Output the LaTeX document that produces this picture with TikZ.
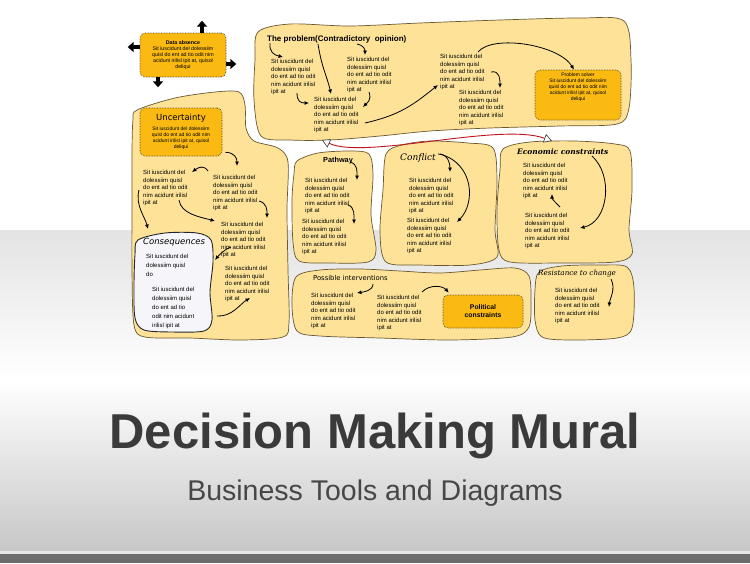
\documentclass[tikz,border=0pt]{standalone}
\usepackage{fontspec}
\setmainfont{Liberation Sans}
\newfontfamily\handserif{DejaVu Serif}
\newfontfamily\handsans{DejaVu Sans}
\usetikzlibrary{arrows.meta}

\definecolor{blobfill}{RGB}{253,226,152}
\definecolor{blobline}{RGB}{105,88,48}
\definecolor{boxfill}{RGB}{250,186,18}
\definecolor{consfill}{RGB}{246,246,250}
\definecolor{redline}{RGB}{190,20,30}
\definecolor{titlegray}{RGB}{58,58,58}

\newcommand{\sittext}{Sit iuscidunt del\\dolessiim quisl\\do ent ad tio odit\\nim acidunt irilisl\\ipit at}
\newcommand{\sitbox}{Sit iuscidunt del dolessiim\\quisl do ent ad tio odit nim\\acidunt irilisl ipit at, quisol\\deliqui}

\begin{document}
\begin{tikzpicture}[x=1pt,y=-1pt,
    blob/.style={fill=blobfill,draw=blobline,line width=0.7pt},
    txt/.style={anchor=north west,inner sep=0pt,align=left,font=\fontsize{6}{7.5}\selectfont},
    boxtxt/.style={anchor=north,inner sep=0pt,align=center,font=\fontsize{5}{5.8}\selectfont},
    obox/.style={fill=boxfill,draw=black!80,densely dotted,line width=0.6pt,rounded corners=5pt},
    arr/.style={-{Latex[length=4.5pt,width=4pt]},line width=0.8pt},
    blk/.style={-{Triangle[length=6pt,width=10pt]},line width=3.5pt},
    tri/.tip={Triangle[length=8pt,width=9pt,fill=white,color=black!80,line width=0.6pt]}]
  \useasboundingbox (0,0) rectangle (750,563);

  % background
  \fill[white] (0,0) rectangle (750,563);
  \shade[top color=black!11,bottom color=white] (0,230) rectangle (750,380);
  \shade[top color=white,bottom color=black!22] (0,380) rectangle (750,551);
  \fill[black!10] (0,551) rectangle (750,554);
  \fill[black!58] (0,554) rectangle (750,563);

  % blobs
  \draw[blob] plot[smooth cycle] coordinates {(258,32) (290,24) (350,26) (420,23) (500,20) (580,18) (624,21) (631,60) (629,108) (617,124) (560,126) (490,128) (430,131) (380,136) (330,140) (290,140) (261,136) (254,100) (255,60)}; % problem
  \draw[blob] plot[smooth cycle] coordinates {(137,110) (175,98) (215,92) (239,92) (245,105) (246,128) (254,141) (278,148) (288,162) (287,210) (288,270) (289,322) (283,337) (240,340) (190,338) (145,337) (134,325) (132,270) (132,200) (132,150) (133,120)}; % uncertainty
  \draw[blob,fill=consfill,draw=black!85,line width=0.9pt] plot[smooth cycle] coordinates {(138,240) (165,233) (197,233) (211,240) (213,262) (210,292) (212,320) (204,331) (172,332) (144,330) (135,318) (134,285) (135,255)}; % consequences
  \draw[blob] plot[smooth cycle] coordinates {(297,161) (318,153) (350,151) (369,154) (373,175) (371,215) (376,250) (368,262) (330,263) (299,261) (293,242) (292,200) (294,174)}; % pathway
  \draw[blob] plot[smooth cycle] coordinates {(386,154) (402,145) (430,141) (468,143) (493,148) (497,180) (495,230) (497,257) (470,265) (420,265) (386,262) (380,232) (383,190)}; % conflict
  \draw[blob] plot[smooth cycle] coordinates {(503,149) (530,142) (575,141) (615,144) (630,151) (632,190) (629,230) (632,254) (615,262) (560,263) (510,262) (499,250) (497,210) (500,170)}; % economic
  \draw[blob] plot[smooth cycle] coordinates {(296,277) (320,270) (360,269) (400,271) (440,273) (480,270) (515,268) (529,276) (531,300) (529,327) (512,337) (450,340) (380,338) (320,336) (297,331) (292,305)}; % interventions
  \draw[blob] plot[smooth cycle] coordinates {(539,272) (562,266) (600,265) (627,267) (634,288) (632,328) (617,338) (570,340) (542,337) (535,320) (535,290)}; % resistance

  % red link
  \coordinate (redL) at (322,140);
  \coordinate (redR) at (552,141);
  \draw[{tri}-{tri},redline,line width=0.9pt] (redL) .. controls (365,160) and (500,122) .. (redR);

  % orange boxes
  \node[obox,minimum width=86,minimum height=44,align=center,font=\fontsize{5.3}{6}\selectfont] (absence) at (183,55) {\textbf{Data absence}\\\sitbox};
  \node[obox,minimum width=82,minimum height=48] (uncert) at (181,132) {};
  \node[inner sep=0pt,anchor=north,font=\handsans\fontsize{8.5}{9}\selectfont] (uncTitle) at (181,114) {Uncertainty};
  \node[boxtxt] (uncText) at (181,127) {\sitbox};
  \node[obox,minimum width=86,minimum height=50] (solver) at (578,95) {};
  \node[boxtxt] (solverText) at (578,73) {Problem solver\\\sitbox};
  \node[obox,minimum width=80,minimum height=33,align=center,font=\bfseries\fontsize{6.8}{8}\selectfont] (political) at (483,311.5) {Political\\constraints};

  % block arrows round data absence
  \draw[blk] ([xshift=19pt]absence.north) -- ++(0,-12);
  \draw[blk] ([yshift=8pt]absence.west) -- ++(-12,0);
  \draw[blk] ([yshift=-9pt]absence.east) -- ++(10,0);
  \draw[blk] ([xshift=-25pt]absence.south) -- ++(0,10);

  % the problem
  \node[anchor=north west,inner sep=0pt,font=\bfseries\fontsize{8}{9}\selectfont] (problem) at (267,35) {The problem(Contradictory\ \ opinion)};
  \node[txt] (prob1) at (271,59) {\sittext};
  \node[txt] (prob2) at (347,57) {\sittext};
  \node[txt] (prob3) at (314,97) {\sittext};
  \node[txt] (prob4) at (440,54) {\sittext};
  \node[txt] (prob5) at (459,90) {\sittext};
  \draw[arr] ([shift={(3,8)}]problem.north west) .. controls +(-1,9) and +(-9,-2) .. ([shift={(12,-2)}]prob1.north west);
  \draw[arr] ([shift={(51,9)}]problem.north west) .. controls +(4,25) and +(-4,-18) .. ([shift={(17,-3)}]prob3.north west);
  \draw[arr] ([shift={(90,9)}]problem.north west) .. controls +(6,1) and +(0,-6) .. ([shift={(18,-2)}]prob2.north west);
  \draw[arr] ([shift={(26,34)}]prob1.north west) .. controls +(0,9) and +(-8,0) .. ([shift={(-5,6)}]prob3.north west);
  \draw[arr] ([shift={(22,35)}]prob2.north west) .. controls +(3,8) and +(4,-4) .. ([shift={(49,10)}]prob3.north west);
  \draw[arr] ([shift={(51,26)}]prob3.north west) .. controls +(35,-8) and +(-25,20) .. ([shift={(-2,31)}]prob4.north west);
  \draw[arr] ([shift={(38,-2)}]prob4.north west) .. controls +(15,-18) and +(-15,-25) .. ([xshift=-4pt]solver.north);
  \draw[arr] ([shift={(51,18)}]prob4.north west) .. controls +(9,-2) and +(0,-8) .. ([shift={(41,-2)}]prob5.north west);

  % uncertainty
  \node[txt] (unc1) at (143,170) {\sittext};
  \node[txt] (unc2) at (213,175) {\sittext};
  \node[txt] (unc3) at (221,222) {\sittext};
  \node[txt] (unc4) at (225,266) {\sittext};
  \node[anchor=north west,inner sep=0pt,font=\handsans\itshape\fontsize{8.5}{9}\selectfont] (consequ) at (143,238) {Consequences};
  \node[txt,font=\fontsize{6}{9}\selectfont] (cons1) at (146,254) {Sit iuscidunt del\\dolessiim quisl\\do};
  \node[txt,font=\fontsize{6}{9}\selectfont] (cons2) at (152,287) {Sit iuscidunt del\\dolessiim quisl\\do ent ad tio\\odit nim acidunt\\irilisl ipit at};
  \draw[arr] ([shift={(3,-4)}]uncert.south east) .. controls +(9,0) and +(0,-8) .. ([shift={(24,-9)}]unc2.north west);
  \draw[arr] ([shift={(-5,-4)}]unc2.north west) .. controls +(-4,-6) and +(7,-5) .. ([shift={(49,2)}]unc1.north west);
  \draw[arr] ([shift={(-4,20)}]unc1.north west) .. controls +(-4,15) and +(-3,-12) .. ([shift={(5,-9)}]consequ.north west);
  \draw[arr] ([shift={(36,30)}]unc1.north west) .. controls +(2,14) and +(-15,-4) .. ([shift={(-6,-1)}]unc3.north west);
  \draw[arr] ([shift={(46,26)}]unc2.north west) .. controls +(8,2) and +(0,-8) .. ([shift={(46,-4)}]unc3.north west);
  \draw[arr] ([shift={(10,25)}]unc3.north west) .. controls +(-6,2) and +(4,-5) .. ([shift={(-6,38)}]unc3.north west);
  \draw[arr] ([shift={(65,29)}]cons2.north west) .. controls +(15,1) and +(-10,6) .. ([shift={(25,32)}]unc4.north west);

  % pathway
  \node[anchor=north west,inner sep=0pt,font=\bfseries\fontsize{7.3}{8}\selectfont] (pathway) at (323,157) {Pathway};
  \node[txt] (path1) at (305,178) {\sittext};
  \node[txt] (path2) at (302,219) {\sittext};
  \draw[arr] ([shift={(27,5)}]pathway.north west) .. controls +(8,2) and +(0,-8) .. ([shift={(52,2)}]path1.north west);
  \draw[arr] ([shift={(43,27)}]path1.north west) .. controls +(7,2) and +(0,-8) .. ([shift={(52,5)}]path2.north west);

  % conflict
  \node[anchor=north west,inner sep=0pt,font=\handserif\itshape\fontsize{9}{10}\selectfont] (conflict) at (400,153) {Conflict};
  \node[txt] (conf1) at (409,178) {\sittext};
  \node[txt] (conf2) at (407,218) {\sittext};
  \draw[arr] ([shift={(38,1)}]conflict.north west) .. controls +(10,0) and +(0,-9) .. ([shift={(41,-6)}]conf1.north west);
  \draw[arr] ([shift={(40,1)}]conflict.north west) .. controls +(35,10) and +(18,-18) .. ([shift={(50,4)}]conf2.north west);

  % economic constraints
  \node[anchor=north west,inner sep=0pt,font=\handserif\bfseries\itshape\fontsize{7.5}{8}\selectfont] (economic) at (517,149) {Economic constraints};
  \node[txt] (econ1) at (523,163) {\sittext};
  \node[txt] (econ2) at (525,213) {\sittext};
  \draw[arr] ([shift={(75,7)}]economic.north west) .. controls +(22,20) and +(28,-6) .. ([shift={(55,15)}]econ2.north west);
  \draw[arr] ([shift={(35,-6)}]econ2.north west) .. controls +(-4,-4) and +(0,5) .. ([shift={(29,31)}]econ1.north west);

  % possible interventions
  \node[anchor=north west,inner sep=0pt,font=\handsans\fontsize{6.8}{8}\selectfont] (interv) at (313,275) {Possible interventions};
  \node[txt] (int1) at (311,293) {\sittext};
  \node[txt] (int2) at (377,295) {\sittext};
  \draw[arr] ([shift={(60,9)}]interv.north west) .. controls +(0,7) and +(6,-1) .. ([shift={(46,0)}]int1.north west);
  \draw[arr] ([shift={(45,-3)}]int2.north west) .. controls +(8,-8) and +(-6,-7) .. ([shift={(6,-2)}]political.north west);

  % resistance to change
  \node[anchor=north west,inner sep=0pt,font=\handserif\itshape\fontsize{7.2}{8}\selectfont] (resist) at (538,270) {Resistance to change};
  \node[txt] (res1) at (555,288) {\sittext};
  \draw[arr] ([shift={(73,9)}]resist.north west) .. controls +(5,10) and +(1,-9) .. ([shift={(54,19)}]res1.north west);

  % titles
  \node[anchor=base,inner sep=0pt,text=titlegray,font=\bfseries\fontsize{49}{55}\selectfont] (title) at (375,448) {Decision Making Mural};
  \node[anchor=base,inner sep=0pt,text=black!72,font=\fontsize{28.5}{32}\selectfont] (subtitle) at (375,500) {Business Tools and Diagrams};
\end{tikzpicture}
\end{document}
